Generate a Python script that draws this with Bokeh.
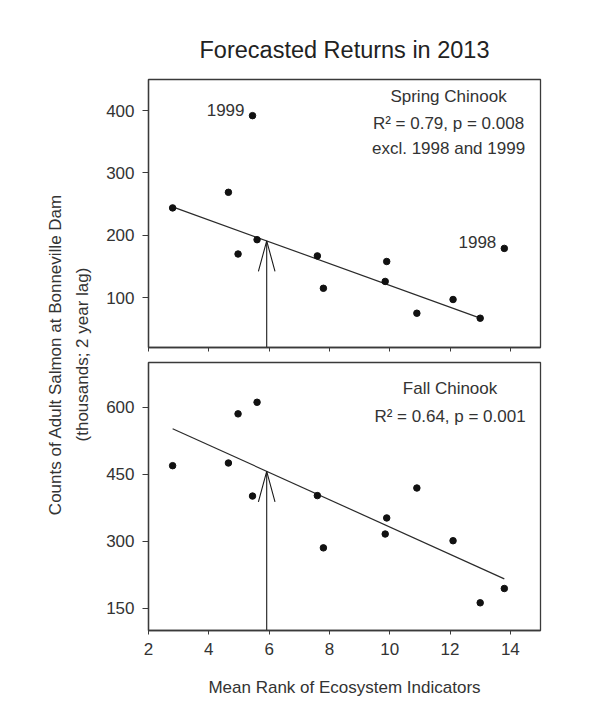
import math
import numpy as np
from bokeh.plotting import figure
from bokeh.layouts import row, column
from bokeh.models import Label, FixedTicker, Range1d
from bokeh.embed import file_html
from bokeh.resources import INLINE

# ---------------- data ----------------
rank = [2.8, 4.65, 4.97, 5.6, 5.45, 7.6, 7.8, 9.9, 9.85, 10.9, 12.1, 13.0, 13.8]
year_label = ["", "", "", "", "1999", "", "", "", "", "", "", "", "1998"]
spring = [244, 269, 170, 193, 392, 167, 115, 158, 126, 75, 97, 67, 179]
fall = [469, 475, 585, 611, 401, 402, 285, 352, 316, 419, 301, 162, 194]
spring_excluded = ["1998", "1999"]
forecast_rank = 5.92

x_ticks = [2, 4, 6, 8, 10, 12, 14]
spring_ticks = [100, 200, 300, 400]
fall_ticks = [150, 300, 450, 600]

title_text = "Forecasted Returns in 2013"
spring_text = ["Spring Chinook", "R\u00b2 = 0.79, p = 0.008", "excl. 1998 and 1999"]
fall_text = ["Fall Chinook", "R\u00b2 = 0.64, p = 0.001"]
y_label = ["Counts of Adult Salmon at Bonneville Dam", "(thousands; 2 year lag)"]
x_label = "Mean Rank of Ecosystem Indicators"

# ---------------- style ----------------
FONT = "Liberation Sans"
FS = "17px"
TXT = "#333333"
EDGE = "#3a3a3a"
FW, FH = 392, 268
XR = (2, 15)
BL, BR = 50, 10
LABEL_W = 98
TOP1, BOT1, TOP2, BOT2 = 79, 8, 7, 70


def make_panel(yr, yticks, top, bottom, show_xlabels):
    p = figure(frame_width=FW, frame_height=FH,
               x_range=Range1d(*XR), y_range=Range1d(*yr),
               output_backend="svg", toolbar_location=None,
               min_border_left=BL, min_border_right=BR,
               min_border_top=top, min_border_bottom=bottom)
    p.grid.visible = False
    p.outline_line_color = EDGE
    p.outline_line_width = 1.3
    p.background_fill_color = "white"
    p.border_fill_color = "white"
    for ax in (p.xaxis[0], p.yaxis[0]):
        ax.axis_line_color = EDGE
        ax.axis_line_width = 1.3
        ax.major_tick_line_color = EDGE
        ax.major_tick_in = 0
        ax.minor_tick_line_color = None
        ax.major_label_text_font = FONT
        ax.major_label_text_font_size = FS
        ax.major_label_text_color = TXT
    p.xaxis.ticker = FixedTicker(ticks=x_ticks)
    p.yaxis.ticker = FixedTicker(ticks=yticks)
    p.xaxis.major_tick_out = 4
    p.yaxis.major_tick_out = 6
    p.yaxis.major_label_standoff = 8
    if show_xlabels:
        p.xaxis.major_label_standoff = 8
        p.xaxis.axis_label = x_label
        p.xaxis.axis_label_text_font = FONT
        p.xaxis.axis_label_text_font_size = FS
        p.xaxis.axis_label_text_font_style = "normal"
        p.xaxis.axis_label_text_color = TXT
        p.xaxis.axis_label_standoff = 20
    else:
        p.xaxis.major_label_overrides = {t: "" for t in x_ticks}
        p.xaxis.major_label_standoff = 0
    return p


def add_fit_and_arrow(p, xs, ys, yr):
    xs = np.asarray(xs, float)
    ys = np.asarray(ys, float)
    slope, icpt = np.polyfit(xs, ys, 1)
    lx = np.array([xs.min(), xs.max()])
    p.line(lx, slope * lx + icpt, line_color="#2a2a2a", line_width=1.2)
    tip = slope * forecast_rank + icpt
    # arrow head size in pixels converted through the panel's scale
    px_x = FW / (XR[1] - XR[0])
    px_y = FH / (yr[1] - yr[0])
    dx = 8.3 / px_x
    dy = 30.5 / px_y
    p.segment(x0=[forecast_rank], y0=[yr[0]], x1=[forecast_rank], y1=[tip],
              line_color="#1a1a1a", line_width=1.1)
    p.line([forecast_rank - dx, forecast_rank, forecast_rank + dx],
           [tip - dy, tip, tip - dy], line_color="#1a1a1a", line_width=1.1)


def add_text_block(p, lines, x_center, yr, offsets):
    for t, off in zip(lines, offsets):
        p.add_layout(Label(x=x_center, y=yr[1], y_offset=-off, text=t,
                           text_font=FONT, text_font_size=FS, text_color=TXT,
                           text_align="center", text_baseline="middle"))


# ---------------- top panel ----------------
SPR_R = (20, 450)
p1 = make_panel(SPR_R, spring_ticks, TOP1, BOT1, False)
p1.title.text = title_text
p1.title.align = "center"
p1.title.text_font = FONT
p1.title.text_font_size = "23.5px"
p1.title.text_font_style = "normal"
p1.title.text_color = "#222222"
p1.title.standoff = 33
keep = [i for i, yl in enumerate(year_label) if yl not in spring_excluded]
add_fit_and_arrow(p1, [rank[i] for i in keep], [spring[i] for i in keep], SPR_R)
p1.scatter(rank, spring, size=6.5, color="#111111")
for x, y, yl in zip(rank, spring, year_label):
    if yl:
        p1.add_layout(Label(x=x, y=y, x_offset=-8, y_offset=6, text=yl,
                            text_font=FONT, text_font_size=FS, text_color=TXT,
                            text_align="right", text_baseline="middle"))
add_text_block(p1, spring_text, 11.95, SPR_R, [16.7, 44, 69.3])

# ---------------- bottom panel ----------------
FALL_R = (100, 700)
p2 = make_panel(FALL_R, fall_ticks, TOP2, BOT2, True)
p2.title.visible = False
add_fit_and_arrow(p2, rank, fall, FALL_R)
p2.scatter(rank, fall, size=6.5, color="#111111")
add_text_block(p2, fall_text, 12.0, FALL_R, [26, 53.7])

# ---------------- y label strip ----------------
H = (TOP1 + FH + BOT1) + (TOP2 + FH + BOT2)
lab = figure(width=LABEL_W, height=H, x_range=Range1d(0, LABEL_W), y_range=Range1d(0, H),
             x_axis_type=None, y_axis_type=None, output_backend="svg",
             toolbar_location=None, min_border=0)
lab.title.visible = False
lab.grid.visible = False
lab.outline_line_color = None
for t, xc in zip(y_label, [55, 82]):
    lab.add_layout(Label(x=xc, y=H - 354, text=t, angle=math.pi / 2,
                         text_font=FONT, text_font_size=FS, text_color=TXT,
                         text_align="center", text_baseline="middle"))

layout = row(lab, column(p1, p2))
open("out.html", "w").write(file_html(layout, INLINE))
